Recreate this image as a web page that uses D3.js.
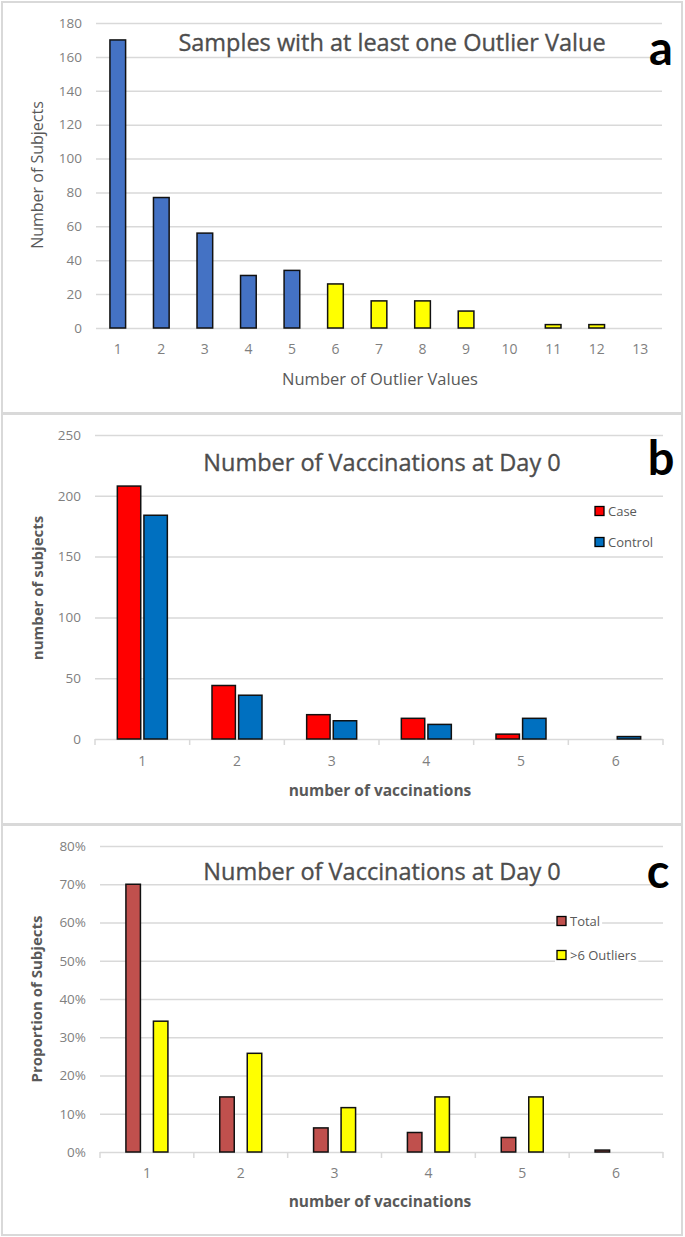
<!DOCTYPE html>
<html>
<head>
<meta charset="utf-8">
<script src="https://cdn.jsdelivr.net/npm/d3@7"></script>
<style>
  html, body { margin: 0; padding: 0; background: #fff; }
  svg { display: block; }
  text { font-family: "Open Sans", "Noto Sans", sans-serif; }
</style>
</head>
<body>
<script>
// ---------- DATA ----------
const aCategories = ["1","2","3","4","5","6","7","8","9","10","11","12","13"];
const aSubjects   = [170, 77, 56, 31, 34, 26, 16, 16, 10, 0, 2, 2, 0];
const aYTicks     = [0, 20, 40, 60, 80, 100, 120, 140, 160, 180];

const bCategories = ["1","2","3","4","5","6"];
const bCase       = [208, 44, 20, 17, 4, 0];
const bControl    = [184, 36, 15, 12, 17, 2];
const bYTicks     = [0, 50, 100, 150, 200, 250];

const cCategories = ["1","2","3","4","5","6"];
const cTotal      = [0.70, 0.144, 0.063, 0.051, 0.038, 0.005];
const cOutliers   = [0.342, 0.258, 0.116, 0.144, 0.144, 0];
const cYTicks     = [0, 0.1, 0.2, 0.3, 0.4, 0.5, 0.6, 0.7, 0.8];

// ---------- STYLE ----------
const W = 685, H = 1237;
const gridColor = "#d9d9d9";
const tickColor = "#7f7f7f";
const titleColor = "#595959";
const FONT = "'Open Sans', 'Noto Sans', sans-serif";

const svg = d3.select("body").append("svg").attr("width", W).attr("height", H);
svg.append("rect").attr("width", W).attr("height", H).attr("fill", "#fff");

// panel frames
[[2, 2, 680, 411], [2, 414, 680, 410], [2, 825, 680, 410]].forEach(([x, y, w, h]) => {
  svg.append("rect").attr("x", x).attr("y", y).attr("width", w).attr("height", h)
    .attr("fill", "none").attr("stroke", gridColor).attr("stroke-width", 2);
});

function yAxisGrid(g, y, x0, x1, fmt, ticks) {
  const ax = d3.axisLeft(y).tickValues(ticks).tickSize(-(x1 - x0)).tickPadding(14).tickFormat(fmt);
  const gg = g.append("g").attr("transform", `translate(${x0},0)`).call(ax);
  gg.select(".domain").remove();
  gg.selectAll(".tick line").attr("stroke", gridColor).attr("stroke-width", 1.5);
  gg.selectAll(".tick text").attr("fill", tickColor).style("font-family", FONT).style("font-size", "13.5px");
  return gg;
}

function xAxisLabels(g, x, y0, pad) {
  const ax = d3.axisBottom(x).tickSize(0).tickPadding(pad);
  const gg = g.append("g").attr("transform", `translate(0,${y0})`).call(ax);
  gg.select(".domain").remove();
  gg.selectAll(".tick text").attr("fill", tickColor).style("font-family", FONT).style("font-size", "14px");
  return gg;
}

function bandTicks(g, x, y0) {
  const st = x.step();
  const bounds = [x.range()[0]].concat(x.domain().map(d => x(d) + st));
  g.selectAll(null).data(bounds).enter().append("line")
    .attr("x1", d => d).attr("x2", d => d).attr("y1", y0).attr("y2", y0 + 6)
    .attr("stroke", gridColor).attr("stroke-width", 1.5);
}

function title(g, txt, cx, by) {
  g.append("text").attr("x", cx).attr("y", by).attr("text-anchor", "middle")
    .attr("fill", "#4d4d4d").attr("stroke", "#4d4d4d").attr("stroke-width", 0.35)
    .style("font-size", "23.5px").text(txt);
}
function letter(g, txt, cx, by) {
  g.append("text").attr("x", cx).attr("y", by).attr("text-anchor", "middle")
    .attr("fill", "#000").style("font-family", "Lato, sans-serif")
    .style("font-size", "47px").style("font-weight", "bold").text(txt);
}
function yTitle(g, txt, cx, cy, bold) {
  g.append("text").attr("transform", `translate(${cx},${cy}) rotate(-90)`).attr("text-anchor", "middle")
    .attr("dy", "0.35em").attr("fill", titleColor).style("font-size", bold ? "15px" : "16px")
    .style("font-weight", bold ? "bold" : "normal").text(txt);
}
function xTitle(g, txt, cx, by, bold) {
  g.append("text").attr("x", cx).attr("y", by).attr("text-anchor", "middle")
    .attr("fill", titleColor).style("font-size", bold ? "15.5px" : "16.5px")
    .style("font-weight", bold ? "bold" : "normal").text(txt);
}
function legendItem(g, x, cy, color, label) {
  const t = g.append("text").attr("x", x + 13).attr("y", cy).attr("dy", "0.35em")
    .attr("fill", titleColor).style("font-size", "13px").text(label);
  const wdt = t.node().getComputedTextLength();
  g.insert("rect", "text").attr("x", x - 2).attr("y", cy - 8).attr("width", wdt + 17).attr("height", 16).attr("fill", "#fff");
  g.append("rect").attr("x", x).attr("y", cy - 4.5).attr("width", 9).attr("height", 9)
    .attr("fill", color).attr("stroke", "#000").attr("stroke-width", 1.3);
  t.raise();
}

// ---------- PANEL A ----------
{
  const g = svg.append("g");
  const x = d3.scaleBand().domain(aCategories).range([96, 662]);
  const y = d3.scaleLinear().domain([0, 180]).range([328, 23]);
  yAxisGrid(g, y, 96, 662, d3.format("d"), aYTicks);
  xAxisLabels(g, x, 328, 16);
  const bw = x.bandwidth() * 0.36;
  g.selectAll(".bar").data(aCategories.map((c, i) => ({ c, v: aSubjects[i] })).filter(d => d.v > 0))
    .enter().append("rect")
    .attr("x", d => x(d.c) + (x.bandwidth() - bw) / 2).attr("width", bw)
    .attr("y", d => y(d.v)).attr("height", d => y(0) - y(d.v))
    .attr("fill", d => (+d.c >= 6 ? "#ffff00" : "#4472c4"))
    .attr("stroke", "#111").attr("stroke-width", 1.5);
  title(g, "Samples with at least one Outlier Value", 392, 51);
  letter(g, "a", 661, 65);
  yTitle(g, "Number of Subjects", 37, 175, false);
  xTitle(g, "Number of Outlier Values", 380, 385, false);
}

// ---------- PANEL B ----------
{
  const g = svg.append("g");
  const x = d3.scaleBand().domain(bCategories).range([95, 663]);
  const y = d3.scaleLinear().domain([0, 250]).range([739, 435]);
  yAxisGrid(g, y, 95, 663, d3.format("d"), bYTicks);
  xAxisLabels(g, x, 739, 17);
  bandTicks(g, x, 739);
  const sub = d3.scaleBand().domain(["Case", "Control"]).range([0, 50]).paddingInner(0.12);
  const off = (x.bandwidth() - 50) / 2;
  const rows = [];
  bCategories.forEach((c, i) => {
    rows.push({ c, s: "Case", v: bCase[i], col: "#ff0000" });
    rows.push({ c, s: "Control", v: bControl[i], col: "#0070c0" });
  });
  g.selectAll(".bar").data(rows.filter(d => d.v > 0)).enter().append("rect")
    .attr("x", d => x(d.c) + off + sub(d.s)).attr("width", sub.bandwidth())
    .attr("y", d => y(d.v)).attr("height", d => y(0) - y(d.v))
    .attr("fill", d => d.col).attr("stroke", "#111").attr("stroke-width", 1.5);
  title(g, "Number of Vaccinations at Day 0", 382, 471);
  letter(g, "b", 661, 475);
  yTitle(g, "number of subjects", 38, 588, true);
  xTitle(g, "number of vaccinations", 380, 796, true);
  const lg = svg.append("g");
  legendItem(lg, 595, 511, "#ff0000", "Case");
  legendItem(lg, 595, 542, "#0070c0", "Control");
}

// ---------- PANEL C ----------
{
  const g = svg.append("g");
  const x = d3.scaleBand().domain(cCategories).range([100, 663]);
  const y = d3.scaleLinear().domain([0, 0.8]).range([1152, 846]);
  yAxisGrid(g, y, 100, 663, d3.format(".0%"), cYTicks);
  xAxisLabels(g, x, 1152, 16);
  bandTicks(g, x, 1152);
  const grp = 42, bw = 14.5;
  const off = (x.bandwidth() - grp) / 2;
  const rows = [];
  cCategories.forEach((c, i) => {
    rows.push({ c, s: "Total", v: cTotal[i], col: "#c0504d" });
    rows.push({ c, s: "Outliers", v: cOutliers[i], col: "#ffff00" });
  });
  g.selectAll(".bar").data(rows.filter(d => d.v > 0)).enter().append("rect")
    .attr("x", d => x(d.c) + off + (d.s === "Total" ? 0 : grp - bw)).attr("width", bw)
    .attr("y", d => y(d.v)).attr("height", d => y(0) - y(d.v))
    .attr("fill", d => d.col).attr("stroke", "#111").attr("stroke-width", 1.5);
  title(g, "Number of Vaccinations at Day 0", 382, 880);
  letter(g, "c", 658, 888);
  yTitle(g, "Proportion of Subjects", 37, 999, true);
  xTitle(g, "number of vaccinations", 380, 1207, true);
  const lg = svg.append("g");
  legendItem(lg, 557, 921, "#c0504d", "Total");
  legendItem(lg, 557, 955, "#ffff00", ">6 Outliers");
}
</script>
</body>
</html>
